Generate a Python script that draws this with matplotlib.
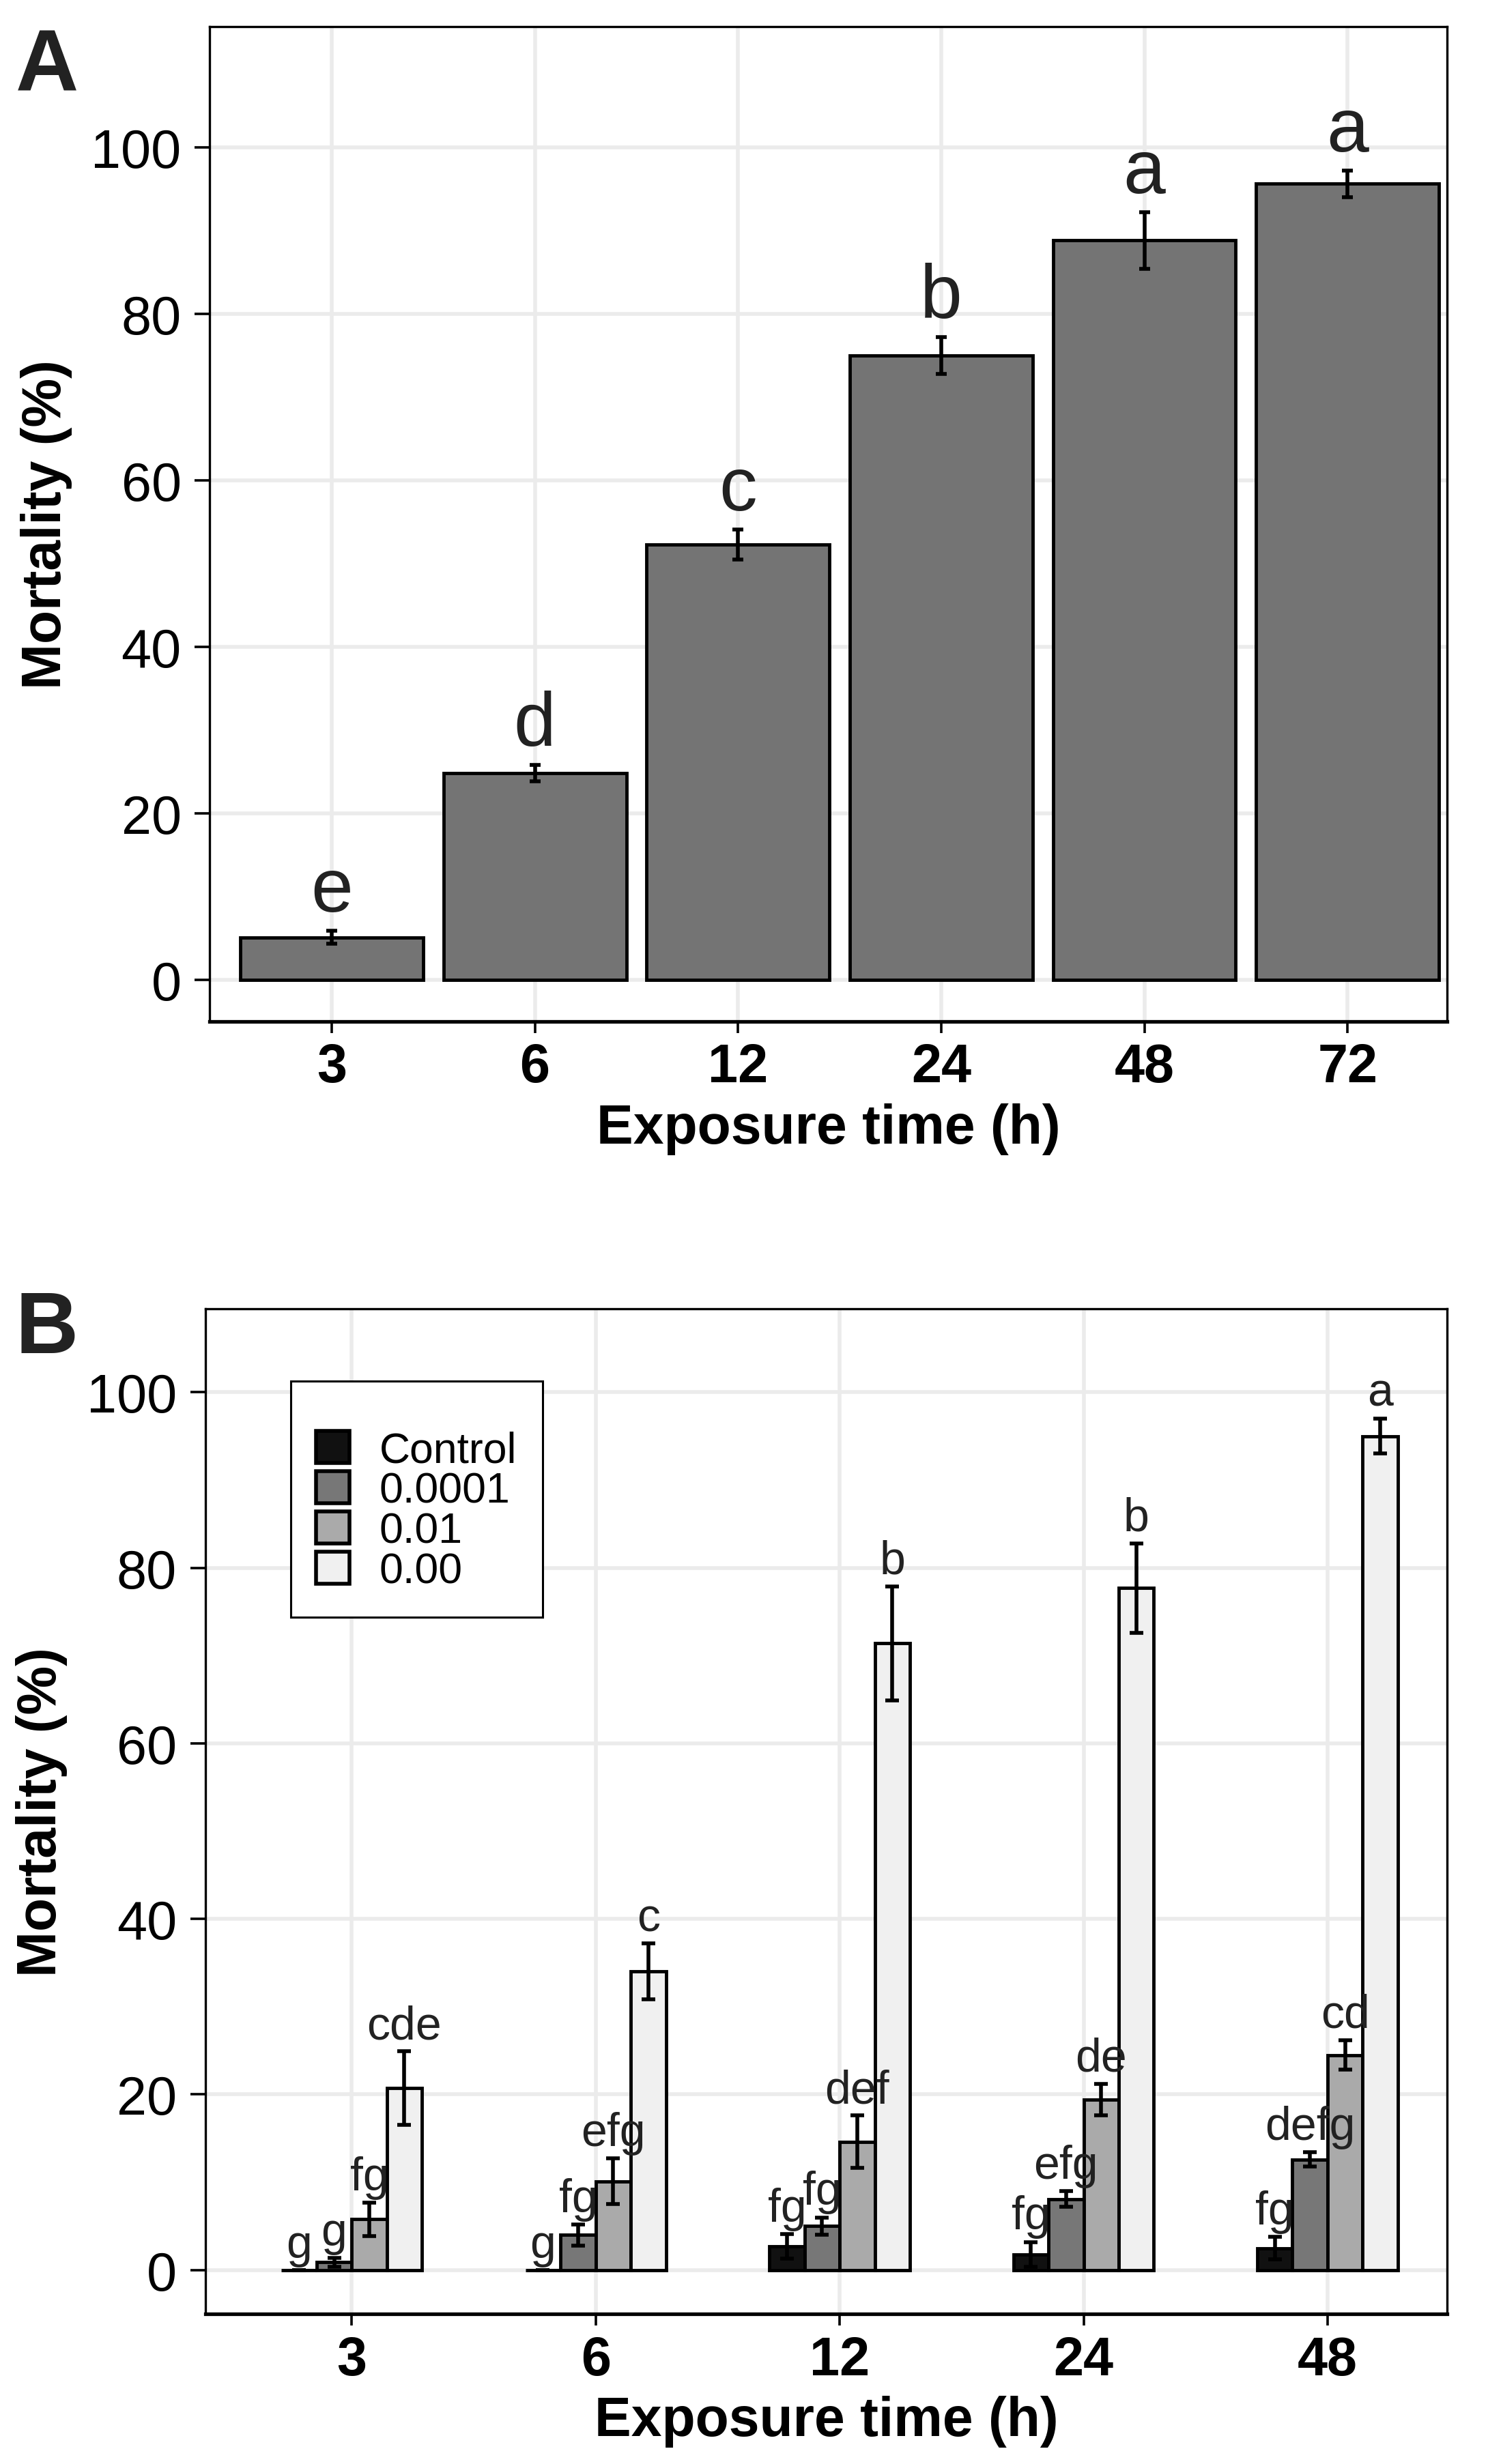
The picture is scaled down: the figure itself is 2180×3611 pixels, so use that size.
import numpy as np
import matplotlib.pyplot as plt
from matplotlib.patches import Patch

plt.rcParams['font.family'] = ['Liberation Sans', 'DejaVu Sans']

# Panel A: overall mortality by exposure time
times_a = ['3', '6', '12', '24', '48', '72']
mort_a = [5.1, 24.8, 52.3, 75.0, 88.8, 95.6]
err_a = [0.8, 1.0, 1.8, 2.2, 3.4, 1.6]
letters_a = ['e', 'd', 'c', 'b', 'a', 'a']

# Panel B: mortality by concentration and exposure time
times_b = ['3', '6', '12', '24', '48']
groups_b = ['Control', '0.0001', '0.01', '0.00']
mort_control = [0.0, 0.0, 2.7, 1.8, 2.5]
mort_1e4 = [0.9, 4.0, 5.0, 8.1, 12.6]
mort_1e2 = [5.8, 10.1, 14.6, 19.4, 24.5]
mort_000 = [20.7, 34.0, 71.4, 77.7, 95.0]
err_control = [0.0, 0.0, 1.4, 1.4, 1.3]
err_1e4 = [0.5, 1.2, 1.0, 0.9, 0.8]
err_1e2 = [1.9, 2.6, 3.0, 1.8, 1.7]
err_000 = [4.2, 3.2, 6.5, 5.1, 2.0]
let_control = ['g', 'g', 'fg', 'fg', 'fg']
let_1e4 = ['g', 'fg', 'fg', 'efg', 'defg']
let_1e2 = ['fg', 'efg', 'def', 'de', 'cd']
let_000 = ['cde', 'c', 'b', 'b', 'a']

colors_b = ['#111111', '#777777', '#aaaaaa', '#f0f0f0']

fig = plt.figure(figsize=(21.8, 36.12), dpi=100)
ax1 = fig.add_axes([0.141, 0.5853, 0.8315, 0.4037])
ax2 = fig.add_axes([0.138, 0.0609, 0.8345, 0.4078])

def style_axes(ax, ymin, ymax, xmin, xmax):
    ax.set_ylim(ymin, ymax)
    ax.set_xlim(xmin, xmax)
    ax.set_yticks([0, 20, 40, 60, 80, 100])
    ax.grid(True, color='#ebebeb', linewidth=4)
    ax.set_axisbelow(True)
    for s in ax.spines.values():
        s.set_linewidth(2.4)
        s.set_color('black')
    ax.spines['bottom'].set_linewidth(3.8)
    ax.tick_params(axis='both', width=2.6, color='black', labelsize=57)
    ax.tick_params(axis='y', length=16, pad=14)
    ax.tick_params(axis='x', length=12, pad=10)
    for lab in ax.get_xticklabels():
        lab.set_fontweight('bold')
    ax.set_xlabel('Exposure time (h)', fontsize=58, fontweight='bold', labelpad=10)
    ax.set_ylabel('Mortality (%)', fontsize=58, fontweight='bold', labelpad=20)

# ---- panel A
xa = np.arange(len(times_a))
ax1.bar(xa, mort_a, width=0.9, color='#747474', edgecolor='black', linewidth=3.5, zorder=2)
ax1.errorbar(xa, mort_a, yerr=err_a, fmt='none', ecolor='black', elinewidth=4,
             capsize=6, capthick=4, zorder=3)
for x, m, e, t in zip(xa, mort_a, err_a, letters_a):
    ax1.text(x, m + e + 0.5, t, ha='center', va='bottom', fontsize=80, color='#222222')
ax1.set_xticks(xa)
ax1.set_xticklabels(times_a)
style_axes(ax1, -5, 114.5, -0.6, 5.49)

# ---- panel B
xb = np.arange(len(times_b))
w = 0.144
offsets = [-1.5 * w, -0.5 * w, 0.5 * w, 1.5 * w]
series_m = [mort_control, mort_1e4, mort_1e2, mort_000]
series_e = [err_control, err_1e4, err_1e2, err_000]
series_l = [let_control, let_1e4, let_1e2, let_000]
for off, m, e, lets, c, g in zip(offsets, series_m, series_e, series_l, colors_b, groups_b):
    ax2.bar(xb + off, m, width=w, color=c, edgecolor='black', linewidth=3.5, zorder=2, label=g)
    ax2.errorbar(xb + off, m, yerr=e, fmt='none', ecolor='black', elinewidth=4,
                 capsize=7, capthick=4, zorder=3)
    for x, mm, ee, t in zip(xb + off, m, e, lets):
        ax2.text(x, mm + ee + 0.4, t, ha='center', va='bottom', fontsize=49, color='#222222')
ax2.set_xticks(xb)
ax2.set_xticklabels(times_b)
style_axes(ax2, -5, 109.5, -0.6, 4.49)

handles = [Patch(facecolor=c, edgecolor='black', linewidth=4) for c in colors_b]
leg = ax2.legend(handles, groups_b, loc='upper left', bbox_to_anchor=(0.0686, 0.928),
                 borderaxespad=0, fontsize=45, frameon=True, fancybox=False,
                 edgecolor='black', framealpha=1, handlelength=0.78, handleheight=0.78,
                 labelspacing=0.0, handletextpad=0.7, borderpad=0.6,
                 title=' ', title_fontsize=26)
leg.get_frame().set_linewidth(2.2)

fig.text(0.0105, 0.963, 'A', fontsize=92, fontweight='bold', color='#222222')
fig.text(0.0105, 0.451, 'B', fontsize=92, fontweight='bold', color='#222222')

fig.savefig('out.png', dpi=100)
